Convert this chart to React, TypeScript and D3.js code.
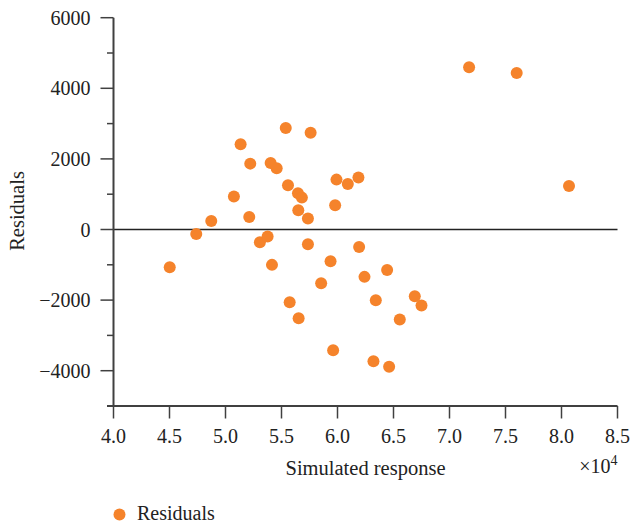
import React from "react";
import * as d3 from "d3";

// Simulated response (raw units) and residuals
const simulated = [
  45020, 47390, 48730, 50750, 51350, 52210, 52120, 53070, 53760, 54030,
  54570, 54150, 55380, 55580, 55730, 56470, 56820, 56500, 56530, 57600,
  57360, 57360, 58540, 59380, 59610, 59790, 59910, 60920, 61870, 61930,
  62410, 63420, 63210, 64430, 64610, 65560, 66900, 67500, 71750, 76000,
  80670,
];
const residuals = [
  -1067, -125, 244, 932, 2415, 1866, 357, -360, -201, 1886,
  1736, -1002, 2877, 1254, -2058, 1028, 903, 546, -2512, 2744,
  309, -416, -1520, -898, -3418, 688, 1413, 1291, 1470, -493,
  -1342, -2002, -3729, -1144, -3890, -2551, -1889, -2155, 4596, 4434,
  1235,
];
const xTicks = [40000, 45000, 50000, 55000, 60000, 65000, 70000, 75000, 80000, 85000];
const yMajorTicks = [6000, 4000, 2000, 0, -2000, -4000];
const yMinorTicks = [5000, 3000, 1000, -1000, -3000, -5000];

const seriesName = "Residuals";
const xTitle = "Simulated response";
const yTitle = "Residuals";

const W = 631;
const H = 526;
const FONT = "'Liberation Serif', 'Times New Roman', serif";
const ORANGE = "#f5832b";
const AXIS = "#404040";

export default function App() {
  const x = d3.scaleLinear().domain([40000, 85000]).range([113.5, 617.5]);
  const y = d3.scaleLinear().domain([-5000, 6000]).range([406, 17.7]);
  const fmtY = (v: number) => (v < 0 ? "\u2212" + Math.abs(v) : String(v));
  const fmtX = (v: number) => (v / 10000).toFixed(1);
  const x0 = x(40000);
  const x1 = x(85000);
  const yBase = y(-5000);

  return (
    <svg
      width={W}
      height={H}
      style={{ position: "absolute", left: 0, top: 0, background: "#fff" }}
      fontFamily={FONT}
    >
      {/* zero line */}
      <line x1={x0} x2={x1} y1={y(0)} y2={y(0)} stroke="#222" strokeWidth={1.4} />

      {/* y axis */}
      <line x1={x0} x2={x0} y1={y(6000)} y2={yBase} stroke={AXIS} strokeWidth={2} />
      {yMajorTicks.map((t) => (
        <g key={"ym" + t}>
          <line x1={x0 - 13} x2={x0} y1={y(t)} y2={y(t)} stroke={AXIS} strokeWidth={1.5} />
          <text
            x={x0 - 23}
            y={y(t)}
            dy="0.35em"
            textAnchor="end"
            fontSize={20}
            fill="#222"
          >
            {fmtY(t)}
          </text>
        </g>
      ))}
      {yMinorTicks.map((t) => (
        <line key={"yn" + t} x1={x0 - 6.5} x2={x0} y1={y(t)} y2={y(t)} stroke={AXIS} strokeWidth={1.5} />
      ))}

      {/* x axis */}
      <line x1={x0 - 6.5} x2={x1} y1={yBase} y2={yBase} stroke={AXIS} strokeWidth={2} />
      {xTicks.map((t) => (
        <g key={"x" + t}>
          <line x1={x(t)} x2={x(t)} y1={yBase} y2={yBase + 12.5} stroke={AXIS} strokeWidth={1.5} />
          <text x={x(t)} y={443} textAnchor="middle" fontSize={20} fill="#222">
            {fmtX(t)}
          </text>
        </g>
      ))}

      {/* titles */}
      <text x={(x0 + x1) / 2} y={475} textAnchor="middle" fontSize={20.5} fill="#222">
        {xTitle}
      </text>
      <text x={x1} y={473} textAnchor="end" fontSize={20} fill="#222">
        ×10
        <tspan fontSize={14} dy={-8}>4</tspan>
      </text>
      <text
        transform={`translate(24, 211) rotate(-90)`}
        textAnchor="middle"
        fontSize={20.5}
        fill="#222"
      >
        {yTitle}
      </text>

      {/* points */}
      {simulated.map((s, i) => (
        <circle key={i} cx={x(s)} cy={y(residuals[i])} r={6} fill={ORANGE} />
      ))}

      {/* legend */}
      <circle cx={119.5} cy={514.5} r={6} fill={ORANGE} />
      <text x={137} y={520} fontSize={20} fill="#222">
        {seriesName}
      </text>
    </svg>
  );
}
